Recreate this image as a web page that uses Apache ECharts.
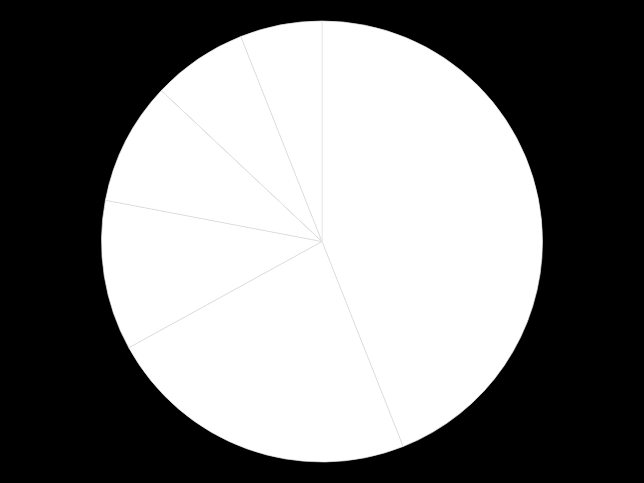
<!DOCTYPE html>
<html>
<head>
<meta charset="utf-8">
<script src="https://cdn.jsdelivr.net/npm/echarts@6/dist/echarts.min.js"></script>
<style>
html,body{margin:0;padding:0;background:#000;}
#main{width:644px;height:483px;}
</style>
</head>
<body>
<div id="main"></div>
<script>
var categories = ['A', 'B', 'C', 'D', 'E', 'F'];
var values = [44, 23, 11, 9, 7, 6];

var chart = echarts.init(document.getElementById('main'));
chart.setOption({
  backgroundColor: '#000000',
  animation: false,
  series: [{
    type: 'pie',
    center: ['50%', '50%'],
    radius: ['0%', '91.3%'],
    startAngle: 90,
    clockwise: true,
    label: { show: false },
    labelLine: { show: false },
    itemStyle: { color: '#ffffff', borderColor: '#e2e2e2', borderWidth: 0.7 },
    emphasis: { disabled: true },
    data: categories.map(function (c, i) { return { name: c, value: values[i] }; })
  }]
});
</script>
</body>
</html>
